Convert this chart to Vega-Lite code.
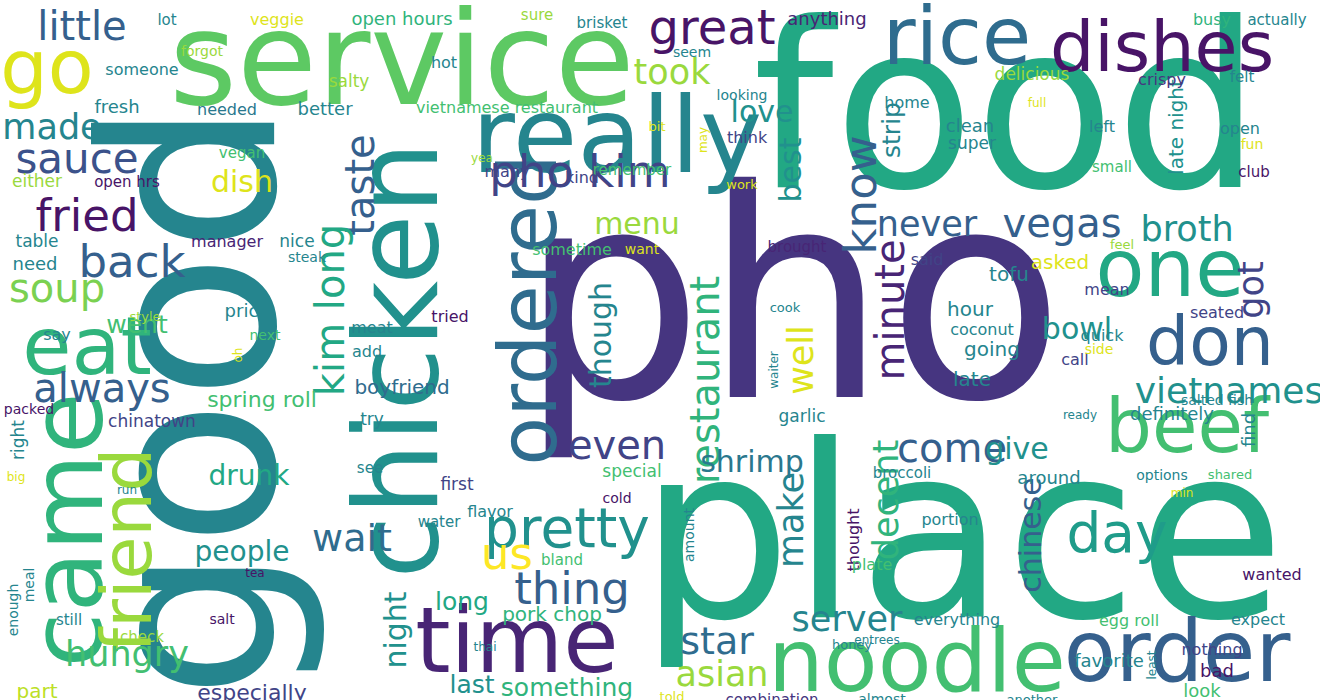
{
"$schema":"https://vega.github.io/schema/vega-lite/v6.json",
"width":1320,"height":700,"autosize":{"type":"fit","contains":"padding"},"padding":0,
"background":"white","view":{"stroke":null},
"data":{"values":[
{"w":"pho","x":790,"y":300,"s":290,"a":0,"c":0.15},
{"w":"good","x":200,"y":390,"s":240,"a":270,"c":0.45},
{"w":"food","x":1005,"y":108,"s":230,"a":0,"c":0.6},
{"w":"place","x":960,"y":535,"s":240,"a":0,"c":0.6},
{"w":"service","x":400,"y":55,"s":130,"a":0,"c":0.75},
{"w":"chicken","x":400,"y":350,"s":115,"a":270,"c":0.5},
{"w":"came","x":70,"y":520,"s":100,"a":270,"c":0.65},
{"w":"really","x":615,"y":130,"s":105,"a":0,"c":0.45},
{"w":"rice","x":955,"y":30,"s":80,"a":0,"c":0.35},
{"w":"dishes","x":1160,"y":40,"s":70,"a":0,"c":0.05},
{"w":"go","x":45,"y":60,"s":75,"a":0,"c":0.95},
{"w":"one","x":1168,"y":262,"s":80,"a":0,"c":0.6},
{"w":"got","x":1250,"y":280,"s":35,"a":270,"c":0.2},
{"w":"ordered","x":530,"y":300,"s":80,"a":270,"c":0.35},
{"w":"time","x":515,"y":635,"s":90,"a":0,"c":0.1},
{"w":"noodle","x":915,"y":655,"s":88,"a":0,"c":0.7},
{"w":"order","x":1175,"y":645,"s":85,"a":0,"c":0.3},
{"w":"don","x":1208,"y":335,"s":68,"a":0,"c":0.3},
{"w":"beef","x":1185,"y":420,"s":74,"a":0,"c":0.7},
{"w":"eat","x":85,"y":340,"s":80,"a":0,"c":0.65},
{"w":"friend","x":128,"y":540,"s":70,"a":270,"c":0.85},
{"w":"pretty","x":565,"y":520,"s":55,"a":0,"c":0.5},
{"w":"pho kim","x":578,"y":163,"s":45,"a":0,"c":0.2},
{"w":"great","x":710,"y":20,"s":48,"a":0,"c":0.05},
{"w":"us","x":505,"y":545,"s":45,"a":0,"c":1},
{"w":"thing","x":570,"y":580,"s":45,"a":0,"c":0.3},
{"w":"day","x":1115,"y":525,"s":55,"a":0,"c":0.55},
{"w":"vietnamese","x":1238,"y":382,"s":36,"a":0,"c":0.5},
{"w":"vegas","x":1060,"y":215,"s":40,"a":0,"c":0.3},
{"w":"never","x":925,"y":215,"s":35,"a":0,"c":0.3},
{"w":"know","x":860,"y":185,"s":45,"a":270,"c":0.3},
{"w":"minute","x":890,"y":300,"s":40,"a":270,"c":0.1},
{"w":"restaurant","x":705,"y":370,"s":40,"a":270,"c":0.65},
{"w":"taste","x":360,"y":175,"s":40,"a":270,"c":0.3},
{"w":"kim long","x":330,"y":300,"s":40,"a":270,"c":0.6},
{"w":"back","x":130,"y":253,"s":45,"a":0,"c":0.3},
{"w":"fried","x":85,"y":207,"s":45,"a":0,"c":0.05},
{"w":"sauce","x":75,"y":150,"s":42,"a":0,"c":0.25},
{"w":"made","x":50,"y":118,"s":35,"a":0,"c":0.45},
{"w":"little","x":80,"y":18,"s":40,"a":0,"c":0.3},
{"w":"always","x":100,"y":380,"s":40,"a":0,"c":0.3},
{"w":"soup","x":55,"y":280,"s":40,"a":0,"c":0.8},
{"w":"hungry","x":125,"y":645,"s":35,"a":0,"c":0.7},
{"w":"especially","x":250,"y":683,"s":22,"a":0,"c":0.2},
{"w":"part","x":35,"y":682,"s":20,"a":0,"c":0.9},
{"w":"went","x":135,"y":315,"s":25,"a":0,"c":0.7},
{"w":"wait","x":350,"y":530,"s":38,"a":0,"c":0.35},
{"w":"people","x":240,"y":543,"s":28,"a":0,"c":0.5},
{"w":"drunk","x":247,"y":467,"s":28,"a":0,"c":0.6},
{"w":"dish","x":240,"y":173,"s":30,"a":0,"c":0.95},
{"w":"took","x":670,"y":63,"s":35,"a":0,"c":0.85},
{"w":"love","x":760,"y":103,"s":30,"a":0,"c":0.5},
{"w":"menu","x":635,"y":215,"s":30,"a":0,"c":0.85},
{"w":"even","x":615,"y":437,"s":40,"a":0,"c":0.2},
{"w":"best","x":790,"y":160,"s":30,"a":270,"c":0.5},
{"w":"well","x":800,"y":350,"s":35,"a":270,"c":0.95},
{"w":"make","x":790,"y":510,"s":35,"a":270,"c":0.45},
{"w":"shrimp","x":750,"y":453,"s":30,"a":0,"c":0.4},
{"w":"come","x":950,"y":440,"s":40,"a":0,"c":0.3},
{"w":"give","x":1015,"y":440,"s":30,"a":0,"c":0.5},
{"w":"broth","x":1185,"y":220,"s":35,"a":0,"c":0.5},
{"w":"bowl","x":1075,"y":320,"s":30,"a":0,"c":0.5},
{"w":"strip","x":890,"y":120,"s":25,"a":270,"c":0.45},
{"w":"decent","x":885,"y":490,"s":35,"a":270,"c":0.65},
{"w":"chinese","x":1030,"y":525,"s":30,"a":270,"c":0.3},
{"w":"server","x":845,"y":610,"s":35,"a":0,"c":0.45},
{"w":"star","x":715,"y":633,"s":38,"a":0,"c":0.35},
{"w":"asian","x":720,"y":665,"s":35,"a":0,"c":0.85},
{"w":"something","x":565,"y":678,"s":25,"a":0,"c":0.65},
{"w":"last","x":470,"y":675,"s":25,"a":0,"c":0.5},
{"w":"long","x":460,"y":592,"s":25,"a":0,"c":0.6},
{"w":"pork chop","x":550,"y":605,"s":20,"a":0,"c":0.65},
{"w":"spring roll","x":260,"y":390,"s":22,"a":0,"c":0.7},
{"w":"boyfriend","x":400,"y":378,"s":20,"a":0,"c":0.35},
{"w":"night","x":395,"y":620,"s":30,"a":270,"c":0.5},
{"w":"though","x":600,"y":325,"s":30,"a":270,"c":0.45},
{"w":"late night","x":1175,"y":117,"s":20,"a":270,"c":0.5},
{"w":"lot","x":165,"y":10,"s":15,"a":0,"c":0.45},
{"w":"veggie","x":275,"y":10,"s":16,"a":0,"c":0.95},
{"w":"open hours","x":400,"y":10,"s":18,"a":0,"c":0.65},
{"w":"sure","x":535,"y":5,"s":15,"a":0,"c":0.85},
{"w":"brisket","x":600,"y":13,"s":15,"a":0,"c":0.45},
{"w":"anything","x":825,"y":10,"s":18,"a":0,"c":0.1},
{"w":"busy","x":1210,"y":10,"s":16,"a":0,"c":0.65},
{"w":"actually","x":1275,"y":10,"s":15,"a":0,"c":0.45},
{"w":"forgot","x":200,"y":42,"s":14,"a":0,"c":0.85},
{"w":"someone","x":140,"y":60,"s":16,"a":0,"c":0.45},
{"w":"hot","x":442,"y":53,"s":16,"a":0,"c":0.45},
{"w":"seem","x":690,"y":43,"s":14,"a":0,"c":0.45},
{"w":"salty","x":347,"y":72,"s":17,"a":0,"c":0.85},
{"w":"home","x":905,"y":93,"s":16,"a":0,"c":0.45},
{"w":"delicious","x":1030,"y":65,"s":17,"a":0,"c":0.85},
{"w":"crispy","x":1160,"y":70,"s":16,"a":0,"c":0.15},
{"w":"felt","x":1240,"y":67,"s":15,"a":0,"c":0.45},
{"w":"fresh","x":115,"y":98,"s":18,"a":0,"c":0.45},
{"w":"needed","x":225,"y":100,"s":16,"a":0,"c":0.4},
{"w":"better","x":323,"y":100,"s":18,"a":0,"c":0.45},
{"w":"vietnamese restaurant","x":505,"y":98,"s":16,"a":0,"c":0.7},
{"w":"looking","x":740,"y":86,"s":14,"a":0,"c":0.45},
{"w":"think","x":745,"y":128,"s":16,"a":0,"c":0.2},
{"w":"bit","x":655,"y":117,"s":13,"a":0,"c":0.95},
{"w":"yea","x":480,"y":148,"s":12,"a":0,"c":0.85},
{"w":"may","x":701,"y":130,"s":12,"a":270,"c":0.95},
{"w":"full","x":1035,"y":93,"s":12,"a":0,"c":0.95},
{"w":"clean","x":968,"y":117,"s":18,"a":0,"c":0.45},
{"w":"super","x":970,"y":134,"s":17,"a":0,"c":0.45},
{"w":"left","x":1100,"y":117,"s":16,"a":0,"c":0.45},
{"w":"open","x":1238,"y":119,"s":16,"a":0,"c":0.45},
{"w":"fun","x":1250,"y":135,"s":14,"a":0,"c":0.95},
{"w":"small","x":1110,"y":157,"s":15,"a":0,"c":0.7},
{"w":"club","x":1252,"y":162,"s":15,"a":0,"c":0.05},
{"w":"vegan","x":240,"y":143,"s":15,"a":0,"c":0.7},
{"w":"either","x":35,"y":172,"s":17,"a":0,"c":0.85},
{"w":"open hrs","x":125,"y":172,"s":15,"a":0,"c":0.05},
{"w":"remember","x":630,"y":160,"s":15,"a":0,"c":0.7},
{"w":"kind","x":580,"y":168,"s":16,"a":0,"c":0.2},
{"w":"many","x":505,"y":162,"s":16,"a":0,"c":0.2},
{"w":"work","x":740,"y":175,"s":13,"a":0,"c":0.95},
{"w":"table","x":35,"y":232,"s":17,"a":0,"c":0.45},
{"w":"manager","x":225,"y":232,"s":16,"a":0,"c":0.1},
{"w":"nice","x":295,"y":232,"s":17,"a":0,"c":0.45},
{"w":"brought","x":795,"y":237,"s":15,"a":0,"c":0.1},
{"w":"tofu","x":1007,"y":265,"s":20,"a":0,"c":0.45},
{"w":"said","x":925,"y":250,"s":16,"a":0,"c":0.2},
{"w":"asked","x":1058,"y":253,"s":20,"a":0,"c":0.95},
{"w":"feel","x":1120,"y":235,"s":13,"a":0,"c":0.85},
{"w":"need","x":33,"y":255,"s":18,"a":0,"c":0.45},
{"w":"steak","x":305,"y":248,"s":14,"a":0,"c":0.45},
{"w":"want","x":640,"y":240,"s":14,"a":0,"c":0.95},
{"w":"sometime","x":570,"y":240,"s":16,"a":0,"c":0.7},
{"w":"price","x":245,"y":302,"s":18,"a":0,"c":0.45},
{"w":"say","x":55,"y":325,"s":16,"a":0,"c":0.45},
{"w":"style","x":143,"y":307,"s":13,"a":0,"c":0.85},
{"w":"tried","x":448,"y":307,"s":16,"a":0,"c":0.05},
{"w":"hour","x":968,"y":300,"s":20,"a":0,"c":0.45},
{"w":"seated","x":1215,"y":303,"s":16,"a":0,"c":0.2},
{"w":"mean","x":1105,"y":280,"s":16,"a":0,"c":0.2},
{"w":"quick","x":1100,"y":326,"s":16,"a":0,"c":0.45},
{"w":"coconut","x":980,"y":320,"s":16,"a":0,"c":0.45},
{"w":"going","x":990,"y":340,"s":20,"a":0,"c":0.45},
{"w":"call","x":1073,"y":350,"s":16,"a":0,"c":0.2},
{"w":"side","x":1097,"y":340,"s":14,"a":0,"c":0.95},
{"w":"oh","x":236,"y":345,"s":12,"a":270,"c":0.95},
{"w":"next","x":263,"y":326,"s":14,"a":0,"c":0.7},
{"w":"meat","x":370,"y":318,"s":16,"a":0,"c":0.45},
{"w":"add","x":365,"y":342,"s":16,"a":0,"c":0.45},
{"w":"late","x":970,"y":370,"s":20,"a":0,"c":0.45},
{"w":"salted fish","x":1215,"y":391,"s":14,"a":0,"c":0.45},
{"w":"waiter","x":772,"y":360,"s":12,"a":270,"c":0.45},
{"w":"ready","x":1078,"y":405,"s":12,"a":0,"c":0.45},
{"w":"definitely","x":1170,"y":405,"s":18,"a":0,"c":0.45},
{"w":"try","x":370,"y":410,"s":17,"a":0,"c":0.45},
{"w":"garlic","x":800,"y":407,"s":17,"a":0,"c":0.45},
{"w":"find","x":1248,"y":420,"s":18,"a":270,"c":0.45},
{"w":"right","x":17,"y":430,"s":17,"a":270,"c":0.45},
{"w":"packed","x":27,"y":400,"s":14,"a":0,"c":0.05},
{"w":"chinatown","x":150,"y":412,"s":17,"a":0,"c":0.2},
{"w":"big","x":14,"y":467,"s":12,"a":0,"c":0.95},
{"w":"run","x":125,"y":480,"s":12,"a":0,"c":0.45},
{"w":"see","x":368,"y":458,"s":15,"a":0,"c":0.45},
{"w":"first","x":455,"y":475,"s":17,"a":0,"c":0.2},
{"w":"around","x":1047,"y":469,"s":18,"a":0,"c":0.45},
{"w":"options","x":1160,"y":466,"s":14,"a":0,"c":0.45},
{"w":"shared","x":1228,"y":465,"s":13,"a":0,"c":0.7},
{"w":"broccoli","x":900,"y":463,"s":15,"a":0,"c":0.45},
{"w":"special","x":630,"y":462,"s":17,"a":0,"c":0.7},
{"w":"cold","x":615,"y":489,"s":14,"a":0,"c":0.05},
{"w":"min","x":1180,"y":483,"s":12,"a":0,"c":0.95},
{"w":"flavor","x":488,"y":502,"s":16,"a":0,"c":0.45},
{"w":"water","x":437,"y":512,"s":15,"a":0,"c":0.45},
{"w":"amount","x":688,"y":525,"s":14,"a":270,"c":0.45},
{"w":"thought","x":852,"y":530,"s":16,"a":270,"c":0.05},
{"w":"portion","x":948,"y":510,"s":16,"a":0,"c":0.45},
{"w":"bland","x":560,"y":550,"s":15,"a":0,"c":0.7},
{"w":"enough","x":12,"y":600,"s":14,"a":270,"c":0.45},
{"w":"meal","x":28,"y":575,"s":14,"a":270,"c":0.45},
{"w":"tea","x":253,"y":563,"s":12,"a":0,"c":0.05},
{"w":"plate","x":870,"y":555,"s":16,"a":0,"c":0.7},
{"w":"wanted","x":1270,"y":565,"s":16,"a":0,"c":0.05},
{"w":"still","x":67,"y":610,"s":15,"a":0,"c":0.45},
{"w":"salt","x":220,"y":610,"s":14,"a":0,"c":0.05},
{"w":"check","x":140,"y":627,"s":15,"a":0,"c":0.85},
{"w":"egg roll","x":1127,"y":611,"s":16,"a":0,"c":0.7},
{"w":"expect","x":1256,"y":610,"s":16,"a":0,"c":0.45},
{"w":"everything","x":955,"y":610,"s":16,"a":0,"c":0.45},
{"w":"honey","x":850,"y":635,"s":13,"a":0,"c":0.45},
{"w":"entrees","x":875,"y":630,"s":12,"a":0,"c":0.45},
{"w":"thai","x":483,"y":637,"s":12,"a":0,"c":0.45},
{"w":"nothing","x":1210,"y":640,"s":16,"a":0,"c":0.2},
{"w":"bad","x":1215,"y":662,"s":18,"a":0,"c":0.05},
{"w":"look","x":1200,"y":682,"s":18,"a":0,"c":0.7},
{"w":"favorite","x":1107,"y":652,"s":18,"a":0,"c":0.45},
{"w":"least","x":1150,"y":655,"s":12,"a":270,"c":0.45},
{"w":"told","x":670,"y":687,"s":13,"a":0,"c":0.95},
{"w":"combination","x":770,"y":690,"s":15,"a":0,"c":0.15},
{"w":"almost","x":880,"y":690,"s":14,"a":0,"c":0.45},
{"w":"another","x":1030,"y":690,"s":13,"a":0,"c":0.45},
{"w":"cook","x":783,"y":298,"s":13,"a":0,"c":0.45}
]},
"mark":{"type":"text","font":"DejaVu Sans","align":"center","baseline":"middle"},
"encoding":{
"x":{"field":"x","type":"quantitative","scale":{"domain":[0,1320],"range":[0,1320]},"axis":null},
"y":{"field":"y","type":"quantitative","scale":{"domain":[0,700],"range":[0,700]},"axis":null},
"text":{"field":"w"},
"size":{"field":"s","type":"quantitative","scale":null},
"angle":{"field":"a","type":"quantitative","scale":null},
"color":{"field":"c","type":"quantitative","scale":{"scheme":"viridis","domain":[0,1]},"legend":null}
}
}
